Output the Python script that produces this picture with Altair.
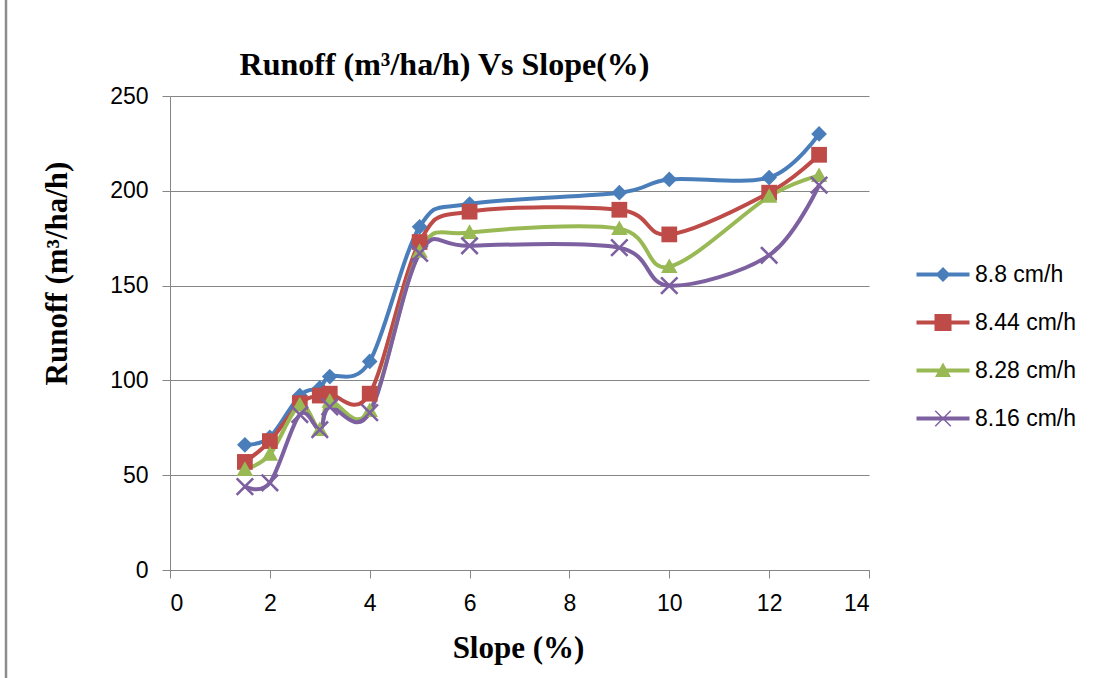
import math
import altair as alt
import pandas as pd

# ---------------- data ----------------
slope = [1.5, 2, 2.6, 3, 3.2, 4, 5, 6, 9, 10, 12, 13]
series_names = ["8.8 cm/h", "8.44 cm/h", "8.28 cm/h", "8.16 cm/h"]
runoff_8_80 = [66, 70, 92, 96, 102, 110, 181, 193, 199, 206, 207, 230]
runoff_8_44 = [57, 68, 88, 92, 93, 93, 173, 189, 190, 177, 199, 219]
runoff_8_28 = [53, 61, 87, 74, 89, 84, 168, 178, 180, 160, 197, 208]
runoff_8_16 = [44, 46, 82, 74, 86, 83, 167, 171, 170, 150, 166, 203]
x_ticks = [0, 2, 4, 6, 8, 10, 12, 14]
y_ticks = [0, 50, 100, 150, 200, 250]

colors = ["#4A7EBB", "#BE4B48", "#98B954", "#7D60A0"]

rows = []
for name, vals in zip(series_names, [runoff_8_80, runoff_8_44, runoff_8_28, runoff_8_16]):
    for s, v in zip(slope, vals):
        rows.append({"slope": s, "runoff": v, "series": name})
df = pd.DataFrame(rows)


# ---------------- marker shapes ----------------
def poly(pts):
    return "M" + "L".join(f"{x:.3f},{y:.3f}" for x, y in pts) + "Z"


def xshape(L, a):
    plus = [(-a, -L), (a, -L), (a, -a), (L, -a), (L, a), (a, a), (a, L), (-a, L),
            (-a, a), (-L, a), (-L, -a), (-a, -a)]
    r = 1 / math.sqrt(2)
    return poly([((x - y) * r, (x + y) * r) for x, y in plus])


diamond = poly([(0, -1.05), (1.05, 0), (0, 1.05), (-1.05, 0)])
square = poly([(-1.05, -1.05), (1.05, -1.05), (1.05, 1.05), (-1.05, 1.05)])
triangle = poly([(0, -1.1), (1.1, 0.85), (-1.1, 0.85)])
cross = xshape(1.55, 0.17)
marker_shapes = [diamond, square, triangle, cross]

seg = poly([(-2.65, -0.2), (2.65, -0.2), (2.65, 0.2), (-2.65, 0.2)])
leg_shapes = [
    seg + poly([(0, -0.75), (0.75, 0), (0, 0.75), (-0.75, 0)]),
    seg + poly([(-0.85, -0.85), (0.85, -0.85), (0.85, 0.85), (-0.85, 0.85)]),
    seg + poly([(0, -0.8), (0.8, 0.65), (-0.8, 0.65)]),
    seg + xshape(1.1, 0.07),
]

x_enc = alt.X("slope:Q", scale=alt.Scale(domain=[0, 14], nice=False),
              axis=alt.Axis(values=x_ticks, title="Slope (%)", grid=False,
                            titleX=348, titleY=78, titleBaseline="middle",
                            labelPadding=14, tickSize=8))
y_enc = alt.Y("runoff:Q", scale=alt.Scale(domain=[0, 250], nice=False),
              axis=alt.Axis(values=y_ticks, title="Runoff (m³/ha/h)", grid=True,
                            titleX=-113, titleY=177, titleBaseline="middle",
                            titleAlign="center", titleAngle=270,
                            labelPadding=14, tickSize=8))

color_scale = alt.Scale(domain=series_names, range=colors)

base = alt.Chart(df)

lines = base.mark_line(interpolate="cardinal", strokeWidth=4).encode(
    x=x_enc, y=y_enc,
    color=alt.Color("series:N", scale=color_scale, legend=None),
)

points = base.mark_point(filled=True, size=225, opacity=1).encode(
    x=x_enc, y=y_enc,
    color=alt.Color("series:N", scale=color_scale, legend=None),
    shape=alt.Shape("series:N", scale=alt.Scale(domain=series_names, range=marker_shapes),
                    legend=None),
)

legend_props = dict(
    title=None, orient="none", legendX=761.5, legendY=167, padding=0,
    symbolSize=400, symbolStrokeWidth=0, labelOffset=20.5, rowPadding=24,
    labelFont="Liberation Sans", labelFontSize=23, labelColor="#000000")

legend_layer = base.transform_filter("datum.slope < 0").mark_point(
    filled=True, opacity=1).encode(
    x=x_enc, y=y_enc,
    color=alt.Color("series:N", scale=color_scale, legend=alt.Legend(**legend_props)),
    shape=alt.Shape("series:N", scale=alt.Scale(domain=series_names, range=leg_shapes),
                    legend=alt.Legend(**legend_props)),
)

frame = alt.Chart(pd.DataFrame({"k": [0]})).mark_rule(
    color="#8C8C8C", strokeWidth=2.5).encode(
    x=alt.value(-164), y=alt.value(-96), y2=alt.value(582))

chart = alt.layer(lines, points, legend_layer, frame).resolve_scale(
    color="independent", shape="independent"
).properties(
    width=699, height=474,
    autosize=alt.AutoSizeParams(type="none"),
    padding={"left": 170, "top": 96, "right": 235, "bottom": 108},
    background="white",
    title=alt.TitleParams("Runoff (m³/ha/h) Vs Slope(%)", anchor="middle", dx=-75,
                          dy=129, offset=14, baseline="bottom", frame="group",
                          font="Liberation Serif",
                          fontSize=32, fontWeight="bold", color="#000000"),
).configure_view(strokeWidth=0).configure_axis(
    domainColor="#868686", tickColor="#868686", gridColor="#868686",
    gridWidth=1, domainWidth=1, tickWidth=1,
    labelFont="Liberation Sans", labelFontSize=23, labelColor="#000000",
    titleFont="Liberation Serif", titleFontSize=31, titleFontWeight="bold",
    titleColor="#000000",
)

chart.save("out.html", embed_options={"renderer": "svg", "actions": False})
